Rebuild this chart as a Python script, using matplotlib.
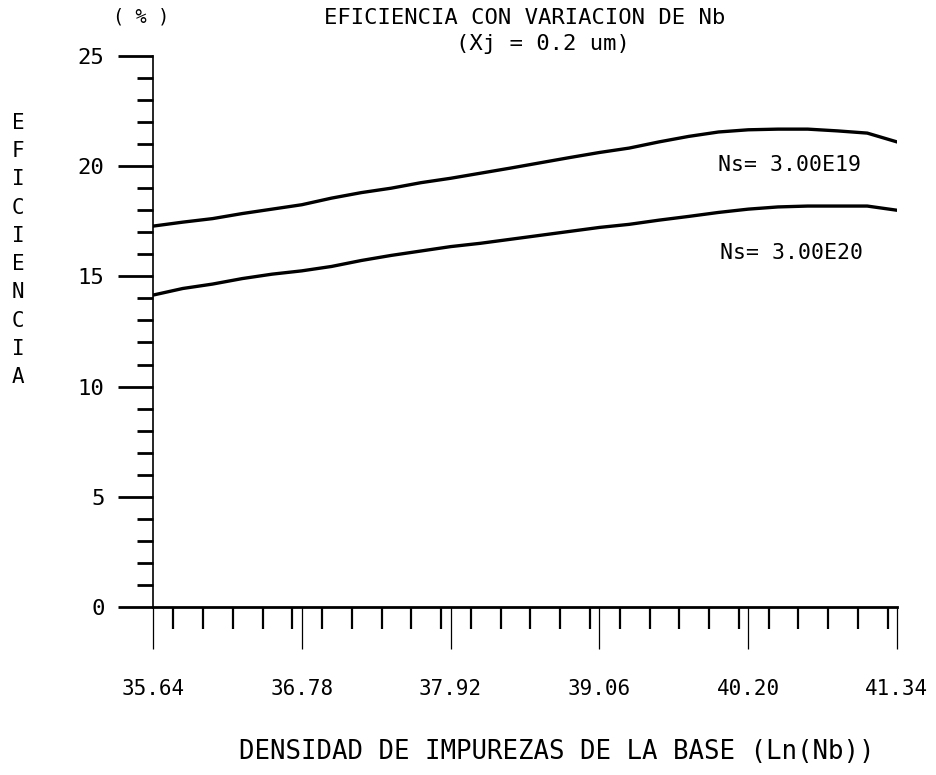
import matplotlib.pyplot as plt
from matplotlib.ticker import MultipleLocator, FixedLocator

# Ln(Nb) sample points and efficiency (%) for the two surface concentrations
ln_nb = [35.640, 35.868, 36.096, 36.324, 36.552, 36.780, 37.008, 37.236,
         37.464, 37.692, 37.920, 38.148, 38.376, 38.604, 38.832, 39.060,
         39.288, 39.516, 39.744, 39.972, 40.200, 40.428, 40.656, 40.884,
         41.112, 41.340]
ef_ns19 = [17.28, 17.46, 17.62, 17.85, 18.05, 18.25, 18.55, 18.80, 19.00,
           19.25, 19.45, 19.68, 19.91, 20.15, 20.39, 20.62, 20.82, 21.10,
           21.35, 21.55, 21.65, 21.68, 21.68, 21.60, 21.50, 21.10]
ef_ns20 = [14.15, 14.45, 14.65, 14.90, 15.10, 15.25, 15.45, 15.72, 15.95,
           16.15, 16.35, 16.50, 16.68, 16.86, 17.04, 17.22, 17.36, 17.55,
           17.72, 17.90, 18.05, 18.15, 18.19, 18.19, 18.19, 18.00]

x_ticks = [35.64, 36.78, 37.92, 39.06, 40.20, 41.34]
x_labels = ['35.64', '36.78', '37.92', '39.06', '40.20', '41.34']
y_ticks = [0, 5, 10, 15, 20, 25]

plt.rcParams['font.family'] = ['DejaVu Sans Mono']

fig = plt.figure(figsize=(9.37, 7.75), dpi=100)
ax = fig.add_axes([0.1633, 0.2168, 0.794, 0.711])

ax.plot(ln_nb, ef_ns19, color='black', lw=2.4)
ax.plot(ln_nb, ef_ns20, color='black', lw=2.4)

ax.set_xlim(35.64, 41.34)
ax.set_ylim(0, 25)

for s in ['top', 'right']:
    ax.spines[s].set_visible(False)
ax.spines['bottom'].set_linewidth(2.0)
ax.spines['left'].set_linewidth(1.2)

ax.xaxis.set_major_locator(FixedLocator(x_ticks))
ax.xaxis.set_minor_locator(MultipleLocator(0.228))
ax.set_xticklabels(x_labels)
ax.yaxis.set_major_locator(FixedLocator(y_ticks))
ax.yaxis.set_minor_locator(MultipleLocator(1))

ax.tick_params(axis='x', which='major', direction='out', length=30,
               width=0.9, pad=22, labelsize=15)
ax.tick_params(axis='x', which='minor', direction='out', length=16,
               width=1.6)
ax.tick_params(axis='y', which='major', direction='out', length=25,
               width=2.0, pad=10, labelsize=16)
ax.tick_params(axis='y', which='minor', direction='out', length=11.5,
               width=2.0)

# curve labels
ax.text(40.52, 20.05, 'Ns= 3.00E19', fontsize=15.5, ha='center', va='center')
ax.text(40.53, 16.05, 'Ns= 3.00E20', fontsize=15.5, ha='center', va='center')

fig.text(525 / 937, 1 - 18 / 775, 'EFICIENCIA CON VARIACION DE Nb',
         fontsize=16, ha='center', va='center')
fig.text(543 / 937, 1 - 44 / 775, '(Xj = 0.2 um)',
         fontsize=16, ha='center', va='center')
fig.text(141 / 937, 1 - 17 / 775, '( % )', fontsize=13.5,
         ha='center', va='center')
fig.text(18 / 937, 1 - 250 / 775, '\n'.join('EFICIENCIA'), fontsize=15,
         ha='center', va='center', linespacing=1.52)
fig.text(557 / 937, 1 - 752 / 775, 'DENSIDAD DE IMPUREZAS DE LA BASE (Ln(Nb))',
         fontsize=18.5, ha='center', va='center')

fig.savefig('out.png', dpi=100)
